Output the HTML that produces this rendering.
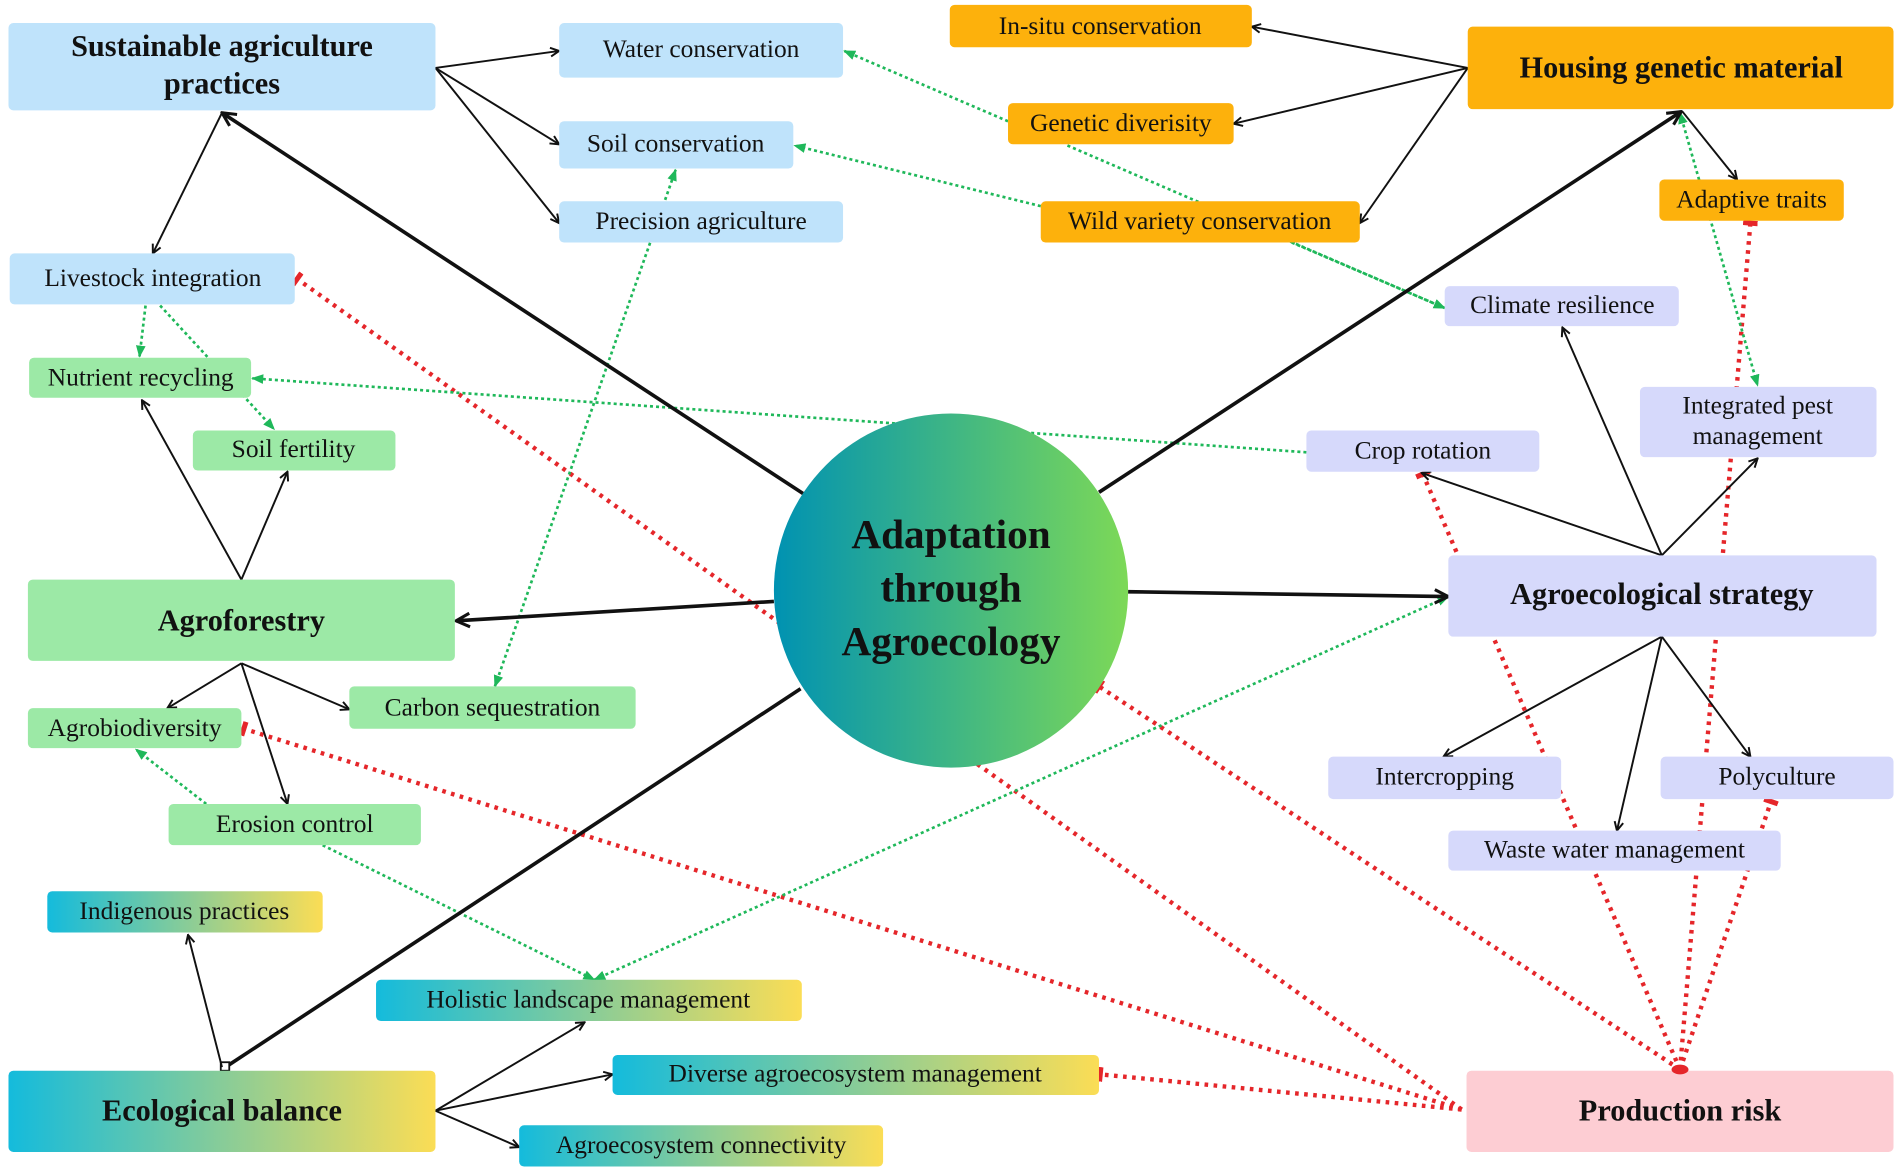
<!DOCTYPE html>
<html><head><meta charset="utf-8"><style>
html,body{margin:0;padding:0;background:#fff;}
svg{display:block;}
text{font-family:"Liberation Serif",serif;fill:#111;}
.s{font-size:21px;}
.b{font-size:25px;font-weight:bold;}
.k{stroke:#111;fill:none;}
.g{stroke:#1fb85a;stroke-width:2.2;stroke-dasharray:2.5 2.5;fill:none;}
.r{stroke:#e5262a;stroke-width:3.6;stroke-dasharray:3 4.5;fill:none;}
</style></head><body>
<svg width="1902" height="1175" viewBox="0 0 1568 969" preserveAspectRatio="none" xmlns="http://www.w3.org/2000/svg">
<defs>
<linearGradient id="cg" x1="0" x2="1" y1="0" y2="0"><stop offset="0" stop-color="#0092b2"/><stop offset="1" stop-color="#7dd957"/></linearGradient>
<linearGradient id="eg" x1="0" x2="1" y1="0" y2="0"><stop offset="0" stop-color="#14bbdc"/><stop offset="1" stop-color="#fbdd55"/></linearGradient>
<marker id="ak" viewBox="0 0 10 10" refX="9" refY="5" markerWidth="9" markerHeight="9" markerUnits="userSpaceOnUse" orient="auto-start-reverse"><path d="M1,1 L9,5 L1,9" fill="none" stroke="#111" stroke-width="1.8"/></marker>
<marker id="akb" viewBox="0 0 10 10" refX="9" refY="5" markerWidth="14" markerHeight="14" markerUnits="userSpaceOnUse" orient="auto-start-reverse"><path d="M1,1 L9,5 L1,9" fill="none" stroke="#111" stroke-width="1.8"/></marker>
<marker id="ag" viewBox="0 0 10 10" refX="9" refY="5" markerWidth="10" markerHeight="10" markerUnits="userSpaceOnUse" orient="auto-start-reverse"><path d="M0,1 L10,5 L0,9 z" fill="#1fb85a"/></marker>
<marker id="tr" viewBox="0 0 10 10" refX="5" refY="5" markerWidth="12" markerHeight="12" markerUnits="userSpaceOnUse" orient="auto"><path d="M5,0 L5,10" stroke="#e5262a" stroke-width="3.5"/></marker>
</defs>

<!-- red dotted (behind) -->
<path class="r" d="M1205,915 L245,230" marker-end="url(#tr)"/>
<path class="r" d="M1205,915 L201,601" marker-end="url(#tr)"/>
<path class="r" d="M1205,915 L907,886" marker-end="url(#tr)"/>
<path class="r" d="M1385,882 L906,566" marker-end="url(#tr)"/>
<path class="r" d="M1385,882 L1173,391" marker-end="url(#tr)"/>
<path class="r" d="M1385,882 L1443,184" marker-end="url(#tr)"/>
<path class="r" d="M1385,882 L1460,661" marker-end="url(#tr)"/>

<!-- green dotted -->
<path class="g" d="M831,100 L696,42" marker-end="url(#ag)"/>
<path class="g" d="M858,170 L655,120" marker-end="url(#ag)"/>
<path class="g" d="M880,120 L1191,254" marker-end="url(#ag)"/>
<path class="g" d="M1065,200 L1191,254" marker-end="url(#ag)"/>
<path class="g" d="M1385,93 L1449,318" marker-start="url(#ag)" marker-end="url(#ag)"/>
<path class="g" d="M1077,373 L208,312" marker-end="url(#ag)"/>
<path class="g" d="M408,566 L557,140" marker-start="url(#ag)" marker-end="url(#ag)"/>
<path class="g" d="M120,252 L115,294" marker-end="url(#ag)"/>
<path class="g" d="M132,252 L226,354" marker-end="url(#ag)"/>
<path class="g" d="M170,663 L112,618" marker-end="url(#ag)"/>
<path class="g" d="M266,697 L490,808" marker-end="url(#ag)"/>
<path class="g" d="M490,808 L1194,492" marker-start="url(#ag)" marker-end="url(#ag)"/>

<!-- black thick -->
<path class="k" stroke-width="3" d="M662,407 L183,93" marker-end="url(#akb)"/>
<path class="k" stroke-width="3" d="M638,496 L376,512" marker-end="url(#akb)"/>
<path class="k" stroke-width="3" d="M906,406 L1386,92" marker-end="url(#akb)"/>
<path class="k" stroke-width="3" d="M930,488 L1194,492" marker-end="url(#akb)"/>
<path class="k" stroke-width="3" d="M660,568 L186,880"/>
<rect x="182" y="876" width="7" height="7" fill="#fff" stroke="#111" stroke-width="1.5"/>

<!-- black thin -->
<g stroke-width="1.6">
<path class="k" d="M359,56 L461,42" marker-end="url(#ak)"/>
<path class="k" d="M359,56 L461,119" marker-end="url(#ak)"/>
<path class="k" d="M359,56 L461,184" marker-end="url(#ak)"/>
<path class="k" d="M183,93 L126,209" marker-end="url(#ak)"/>
<path class="k" d="M199,478 L117,330" marker-end="url(#ak)"/>
<path class="k" d="M199,478 L237,389" marker-end="url(#ak)"/>
<path class="k" d="M199,547 L138,584" marker-end="url(#ak)"/>
<path class="k" d="M199,547 L288,585" marker-end="url(#ak)"/>
<path class="k" d="M199,547 L237,663" marker-end="url(#ak)"/>
<path class="k" d="M183,880 L155,771" marker-end="url(#ak)"/>
<path class="k" d="M359,916 L482,843" marker-end="url(#ak)"/>
<path class="k" d="M359,916 L505,886" marker-end="url(#ak)"/>
<path class="k" d="M359,916 L428,946" marker-end="url(#ak)"/>
<path class="k" d="M1210,56 L1032,22" marker-end="url(#ak)"/>
<path class="k" d="M1210,56 L1017,102" marker-end="url(#ak)"/>
<path class="k" d="M1210,56 L1121,184" marker-end="url(#ak)"/>
<path class="k" d="M1387,92 L1432,148" marker-end="url(#ak)"/>
<path class="k" d="M1370,458 L1288,270" marker-end="url(#ak)"/>
<path class="k" d="M1370,458 L1172,390" marker-end="url(#ak)"/>
<path class="k" d="M1370,458 L1449,378" marker-end="url(#ak)"/>
<path class="k" d="M1370,525 L1190,624" marker-end="url(#ak)"/>
<path class="k" d="M1370,525 L1333,685" marker-end="url(#ak)"/>
<path class="k" d="M1370,525 L1443,624" marker-end="url(#ak)"/>
</g>

<!-- circle -->
<circle cx="784" cy="487" r="146" fill="url(#cg)"/>
<text x="784" y="452" text-anchor="middle" font-size="34" font-weight="bold">Adaptation</text>
<text x="784" y="496" text-anchor="middle" font-size="34" font-weight="bold">through</text>
<text x="784" y="540" text-anchor="middle" font-size="34" font-weight="bold">Agroecology</text>

<!-- blue boxes -->
<g fill="#bfe3fb">
<rect x="7" y="19" width="352" height="72" rx="4"/>
<rect x="461" y="19" width="234" height="45" rx="4"/>
<rect x="461" y="100" width="193" height="39" rx="4"/>
<rect x="461" y="166" width="234" height="34" rx="4"/>
<rect x="8" y="209" width="235" height="42" rx="4"/>
</g>
<text class="b" x="183" y="46" text-anchor="middle">Sustainable agriculture</text>
<text class="b" x="183" y="77" text-anchor="middle">practices</text>
<text class="s" x="578" y="47" text-anchor="middle">Water conservation</text>
<text class="s" x="557" y="125" text-anchor="middle">Soil conservation</text>
<text class="s" x="578" y="189" text-anchor="middle">Precision agriculture</text>
<text class="s" x="126" y="236" text-anchor="middle">Livestock integration</text>

<!-- green boxes -->
<g fill="#9ce9a6">
<rect x="24" y="295" width="183" height="33" rx="4"/>
<rect x="159" y="355" width="167" height="33" rx="4"/>
<rect x="23" y="478" width="352" height="67" rx="4"/>
<rect x="23" y="584" width="176" height="33" rx="4"/>
<rect x="288" y="566" width="236" height="35" rx="4"/>
<rect x="139" y="663" width="208" height="34" rx="4"/>
</g>
<text class="s" x="116" y="318" text-anchor="middle">Nutrient recycling</text>
<text class="s" x="242" y="377" text-anchor="middle">Soil fertility</text>
<text class="b" x="199" y="520" text-anchor="middle">Agroforestry</text>
<text class="s" x="111" y="607" text-anchor="middle">Agrobiodiversity</text>
<text class="s" x="406" y="590" text-anchor="middle">Carbon sequestration</text>
<text class="s" x="243" y="686" text-anchor="middle">Erosion control</text>

<!-- gradient boxes -->
<g fill="url(#eg)">
<rect x="39" y="735" width="227" height="34" rx="4"/>
<rect x="310" y="808" width="351" height="34" rx="4"/>
<rect x="7" y="883" width="352" height="67" rx="4"/>
<rect x="505" y="870" width="401" height="33" rx="4"/>
<rect x="428" y="928" width="300" height="34" rx="4"/>
</g>
<text class="s" x="152" y="758" text-anchor="middle">Indigenous practices</text>
<text class="s" x="485" y="831" text-anchor="middle">Holistic landscape management</text>
<text class="b" x="183" y="924" text-anchor="middle">Ecological balance</text>
<text class="s" x="705" y="892" text-anchor="middle">Diverse agroecosystem management</text>
<text class="s" x="578" y="951" text-anchor="middle">Agroecosystem connectivity</text>

<!-- orange boxes -->
<g fill="#fdb10c">
<rect x="783" y="4" width="249" height="35" rx="4"/>
<rect x="831" y="85" width="186" height="34" rx="4"/>
<rect x="858" y="166" width="263" height="34" rx="4"/>
<rect x="1210" y="22" width="351" height="68" rx="4"/>
<rect x="1368" y="148" width="152" height="34" rx="4"/>
</g>
<text class="s" x="907" y="28" text-anchor="middle">In-situ conservation</text>
<text class="s" x="924" y="108" text-anchor="middle">Genetic diverisity</text>
<text class="s" x="989" y="189" text-anchor="middle">Wild variety conservation</text>
<text class="b" x="1386" y="64" text-anchor="middle">Housing genetic material</text>
<text class="s" x="1444" y="171" text-anchor="middle">Adaptive traits</text>

<!-- lavender boxes -->
<g fill="#d6d9fb">
<rect x="1191" y="236" width="193" height="33" rx="4"/>
<rect x="1352" y="319" width="195" height="58" rx="4"/>
<rect x="1077" y="355" width="192" height="34" rx="4"/>
<rect x="1194" y="458" width="353" height="67" rx="4"/>
<rect x="1095" y="624" width="192" height="35" rx="4"/>
<rect x="1369" y="624" width="192" height="35" rx="4"/>
<rect x="1194" y="685" width="274" height="33" rx="4"/>
</g>
<text class="s" x="1288" y="258" text-anchor="middle">Climate resilience</text>
<text class="s" x="1449" y="341" text-anchor="middle">Integrated pest</text>
<text class="s" x="1449" y="366" text-anchor="middle">management</text>
<text class="s" x="1173" y="378" text-anchor="middle">Crop rotation</text>
<text class="b" x="1370" y="498" text-anchor="middle">Agroecological strategy</text>
<text class="s" x="1191" y="647" text-anchor="middle">Intercropping</text>
<text class="s" x="1465" y="647" text-anchor="middle">Polyculture</text>
<text class="s" x="1331" y="707" text-anchor="middle">Waste water management</text>

<!-- pink -->
<rect x="1209" y="883" width="352" height="67" rx="4" fill="#fdcdd3"/>
<text class="b" x="1385" y="924" text-anchor="middle">Production risk</text>
<ellipse cx="1385" cy="882" rx="7" ry="4" fill="#e5262a"/>
</svg>
</body></html>
